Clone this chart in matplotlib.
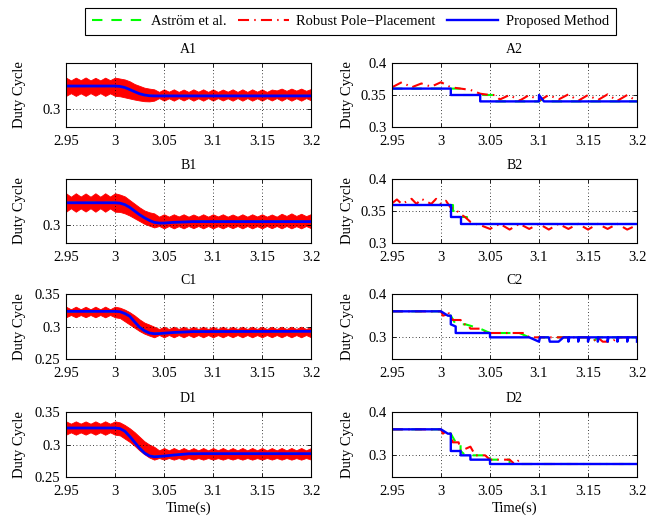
import numpy as np
import matplotlib
matplotlib.use('Agg')
import matplotlib.pyplot as plt
from matplotlib.ticker import FormatStrFormatter

plt.rcParams['font.family'] = ['Liberation Serif', 'DejaVu Serif']

# ---------------- left column (A1..D1): ripple band + smooth response ----------------
t_left = np.linspace(2.95, 3.2, 51)   # 5 ms sample grid of the band envelopes

a1_red_hi = [0.3170, 0.3155, 0.3170, 0.3156, 0.3171, 0.3155, 0.3169, 0.3155, 0.3170, 0.3156, 0.3170,
             0.3165, 0.3160, 0.3150, 0.3135, 0.3125, 0.3115, 0.3110, 0.3106, 0.3092, 0.3106, 0.3093,
             0.3106, 0.3092, 0.3105, 0.3092, 0.3106, 0.3093, 0.3106, 0.3092, 0.3106, 0.3092, 0.3105,
             0.3093, 0.3106, 0.3092, 0.3106, 0.3092, 0.3106, 0.3093, 0.3106, 0.3092, 0.3105, 0.3100,
             0.3110, 0.3098, 0.3110, 0.3099, 0.3110, 0.3098, 0.3108]
a1_red_lo = [0.3070, 0.3085, 0.3070, 0.3084, 0.3070, 0.3085, 0.3071, 0.3085, 0.3070, 0.3084, 0.3070,
             0.3068, 0.3062, 0.3056, 0.3050, 0.3045, 0.3041, 0.3040, 0.3044, 0.3058, 0.3044, 0.3057,
             0.3044, 0.3058, 0.3045, 0.3058, 0.3044, 0.3057, 0.3044, 0.3058, 0.3044, 0.3058, 0.3045,
             0.3057, 0.3044, 0.3058, 0.3044, 0.3058, 0.3044, 0.3057, 0.3044, 0.3058, 0.3045, 0.3058,
             0.3044, 0.3058, 0.3044, 0.3057, 0.3044, 0.3058, 0.3046]
a1_blue_t = [2.95, 3.0, 3.005, 3.01, 3.015, 3.02, 3.025, 3.03, 3.035, 3.04, 3.2]
a1_blue = [0.3124, 0.3124, 0.3122, 0.3116, 0.3105, 0.3093, 0.3082, 0.3075, 0.3071, 0.3070, 0.3070]

b1_red_hi = [0.3172, 0.3153, 0.3172, 0.3154, 0.3171, 0.3153, 0.3172, 0.3153, 0.3172, 0.3154, 0.3172,
             0.3165, 0.3155, 0.3135, 0.3115, 0.3095, 0.3078, 0.3068, 0.3062, 0.3044, 0.3057, 0.3044,
             0.3057, 0.3045, 0.3057, 0.3044, 0.3056, 0.3044, 0.3057, 0.3044, 0.3057, 0.3045, 0.3057,
             0.3044, 0.3056, 0.3044, 0.3057, 0.3044, 0.3057, 0.3045, 0.3057, 0.3044, 0.3056, 0.3044,
             0.3060, 0.3048, 0.3062, 0.3048, 0.3060, 0.3047, 0.3058]
b1_red_lo = [0.3071, 0.3090, 0.3071, 0.3089, 0.3072, 0.3090, 0.3071, 0.3090, 0.3071, 0.3089, 0.3071,
             0.3070, 0.3062, 0.3050, 0.3035, 0.3020, 0.3005, 0.2995, 0.2985, 0.2993, 0.2980, 0.2993,
             0.2980, 0.2992, 0.2980, 0.2993, 0.2981, 0.2993, 0.2980, 0.2993, 0.2980, 0.2992, 0.2980,
             0.2993, 0.2981, 0.2993, 0.2980, 0.2993, 0.2980, 0.2992, 0.2980, 0.2993, 0.2981, 0.2993,
             0.2980, 0.2993, 0.2980, 0.2992, 0.2980, 0.2993, 0.2981]
b1_blue_t = [2.95, 3.0, 3.005, 3.01, 3.015, 3.02, 3.025, 3.03, 3.035, 3.04, 3.045, 3.05, 3.06, 3.08, 3.2]
b1_blue = [0.3120, 0.3120, 0.3118, 0.3110, 0.3095, 0.3075, 0.3055, 0.3038, 0.3024, 0.3013, 0.3009,
           0.3009, 0.3013, 0.3017, 0.3017]

c1_red_hi = [0.3305, 0.3265, 0.3305, 0.3266, 0.3304, 0.3265, 0.3305, 0.3265, 0.3306, 0.3265, 0.3305,
             0.3290, 0.3260, 0.3220, 0.3170, 0.3110, 0.3060, 0.3030, 0.2997, 0.2962, 0.2997, 0.2962,
             0.2997, 0.2963, 0.2997, 0.2962, 0.2996, 0.2962, 0.2997, 0.2962, 0.2997, 0.2963, 0.2997,
             0.2962, 0.2996, 0.2962, 0.2997, 0.2962, 0.2997, 0.2963, 0.2997, 0.2962, 0.2996, 0.2962,
             0.2997, 0.2962, 0.2997, 0.2963, 0.2997, 0.2962, 0.2996]
c1_red_lo = [0.3142, 0.3177, 0.3142, 0.3176, 0.3143, 0.3177, 0.3142, 0.3177, 0.3141, 0.3177, 0.3142,
             0.3130, 0.3080, 0.3030, 0.2980, 0.2930, 0.2890, 0.2860, 0.2834, 0.2869, 0.2834, 0.2869,
             0.2834, 0.2868, 0.2834, 0.2869, 0.2835, 0.2869, 0.2834, 0.2869, 0.2834, 0.2868, 0.2834,
             0.2869, 0.2835, 0.2869, 0.2834, 0.2869, 0.2834, 0.2868, 0.2834, 0.2869, 0.2835, 0.2869,
             0.2834, 0.2869, 0.2834, 0.2868, 0.2834, 0.2869, 0.2835]
c1_blue_t = [2.95, 3.0, 3.005, 3.01, 3.015, 3.02, 3.025, 3.03, 3.035, 3.04, 3.045, 3.05, 3.06, 3.08, 3.2]
c1_blue = [0.3233, 0.3233, 0.3228, 0.3200, 0.3158, 0.3072, 0.2990, 0.2935, 0.2900, 0.2889, 0.2891,
           0.2897, 0.2908, 0.2922, 0.2926]

d1_red_hi = [0.3356, 0.3320, 0.3356, 0.3321, 0.3355, 0.3320, 0.3356, 0.3320, 0.3357, 0.3320, 0.3356,
             0.3340, 0.3300, 0.3250, 0.3190, 0.3120, 0.3050, 0.3000, 0.2965, 0.2910, 0.2946, 0.2910,
             0.2946, 0.2911, 0.2946, 0.2910, 0.2945, 0.2910, 0.2946, 0.2910, 0.2946, 0.2911, 0.2946,
             0.2910, 0.2945, 0.2910, 0.2946, 0.2910, 0.2946, 0.2911, 0.2946, 0.2910, 0.2945, 0.2910,
             0.2946, 0.2910, 0.2946, 0.2911, 0.2946, 0.2910, 0.2945]
d1_red_lo = [0.3151, 0.3187, 0.3151, 0.3186, 0.3152, 0.3187, 0.3151, 0.3187, 0.3150, 0.3187, 0.3151,
             0.3140, 0.3090, 0.3040, 0.2980, 0.2910, 0.2850, 0.2800, 0.2767, 0.2792, 0.2767, 0.2792,
             0.2767, 0.2791, 0.2767, 0.2792, 0.2768, 0.2792, 0.2767, 0.2792, 0.2767, 0.2791, 0.2767,
             0.2792, 0.2768, 0.2792, 0.2767, 0.2792, 0.2767, 0.2791, 0.2767, 0.2792, 0.2768, 0.2792,
             0.2767, 0.2792, 0.2767, 0.2791, 0.2767, 0.2792, 0.2768]
d1_blue_t = [2.95, 3.0, 3.005, 3.01, 3.015, 3.02, 3.025, 3.03, 3.035, 3.04, 3.045, 3.05, 3.06, 3.075,
             3.09, 3.2]
d1_blue = [0.3254, 0.3254, 0.3245, 0.3205, 0.3125, 0.3035, 0.2945, 0.2870, 0.2825, 0.2811, 0.2816,
           0.2822, 0.2838, 0.2857, 0.2859, 0.2859]

# ---------------- right column (A2..D2): quantised duty cycle ----------------
a2_green_t = [2.95, 3.02, 3.02, 3.055, 3.055, 3.10, 3.105, 3.11, 3.2]
a2_green = [0.36, 0.36, 0.35, 0.35, 0.34, 0.34, 0.345, 0.34, 0.34]
a2_red_t = [2.95, 2.96, 2.97, 2.98, 2.99, 3.0, 3.01, 3.02, 3.03, 3.04, 3.05, 3.055, 3.06, 3.07,
            3.08, 3.09, 3.10, 3.11, 3.12, 3.13, 3.14, 3.15, 3.16, 3.17, 3.18, 3.19, 3.2]
a2_red = [0.362, 0.370, 0.362, 0.368, 0.363, 0.370, 0.362, 0.360, 0.358, 0.352, 0.350, 0.350, 0.343,
          0.350, 0.341, 0.350, 0.341, 0.350, 0.343, 0.351, 0.341, 0.350, 0.342, 0.351, 0.341, 0.350,
          0.340]
a2_blue_t = [2.95, 3.01, 3.01, 3.04, 3.04, 3.10, 3.10, 3.105, 3.2]
a2_blue = [0.36, 0.36, 0.35, 0.35, 0.34, 0.34, 0.35, 0.34, 0.34]

b2_green_t = [2.95, 3.012, 3.012, 3.017, 3.017, 3.027, 3.027, 3.2]
b2_green = [0.36, 0.36, 0.35, 0.35, 0.34, 0.34, 0.33, 0.33]
b2_red_t = [2.95, 2.955, 2.96, 2.97, 2.975, 2.98, 2.99, 2.995, 3.0, 3.005, 3.01, 3.015, 3.02,
            3.025, 3.03, 3.035, 3.04, 3.05, 3.06, 3.07, 3.08, 3.09, 3.10, 3.11, 3.12, 3.13, 3.14,
            3.15, 3.16, 3.17, 3.18, 3.19, 3.2]
b2_red = [0.362, 0.368, 0.361, 0.369, 0.361, 0.369, 0.361, 0.369, 0.361, 0.366, 0.355, 0.352,
          0.345, 0.340, 0.333, 0.330, 0.328, 0.322, 0.330, 0.321, 0.330, 0.322, 0.330, 0.321, 0.330,
          0.322, 0.330, 0.321, 0.330, 0.322, 0.330, 0.321, 0.328]
b2_blue_t = [2.95, 3.01, 3.01, 3.02, 3.02, 3.2]
b2_blue = [0.36, 0.36, 0.34, 0.34, 0.33, 0.33]

c2_green_t = [2.95, 3.0, 3.005, 3.01, 3.015, 3.025, 3.04, 3.05, 3.08, 3.09, 3.15, 3.155, 3.16, 3.2]
c2_green = [0.36, 0.36, 0.35, 0.35, 0.33, 0.33, 0.32, 0.31, 0.31, 0.30, 0.30, 0.29, 0.30, 0.30]
c2_red_t = [2.95, 3.0, 3.002, 3.005, 3.007, 3.01, 3.012, 3.02, 3.022, 3.027, 3.03, 3.04, 3.045,
            3.085, 3.09, 3.15, 3.155, 3.16, 3.165, 3.175, 3.18, 3.2]
c2_red = [0.36, 0.36, 0.35, 0.352, 0.36, 0.345, 0.34, 0.34, 0.33, 0.33, 0.32, 0.32, 0.31, 0.31,
          0.30, 0.30, 0.29, 0.30, 0.29, 0.29, 0.30, 0.30]
c2_blue_t = [2.95, 3.0, 3.007, 3.01, 3.01, 3.015, 3.015, 3.05, 3.05, 3.09, 3.10, 3.101, 3.11,
             3.111, 3.12, 3.125, 3.13, 3.13, 3.131, 3.14, 3.14, 3.141, 3.15, 3.15, 3.151, 3.16,
             3.16, 3.161, 3.17, 3.17, 3.171, 3.18, 3.18, 3.181, 3.19, 3.19, 3.191, 3.2, 3.2]
c2_blue = [0.36, 0.36, 0.35, 0.35, 0.33, 0.325, 0.31, 0.31, 0.30, 0.30, 0.29, 0.30, 0.30, 0.29,
           0.29, 0.30, 0.30, 0.29, 0.30, 0.30, 0.29, 0.30, 0.30, 0.29, 0.30, 0.30, 0.29, 0.30,
           0.30, 0.29, 0.30, 0.30, 0.29, 0.30, 0.30, 0.29, 0.30, 0.30, 0.29]

d2_green_t = [2.95, 3.0, 3.01, 3.015, 3.02, 3.02, 3.025, 3.05, 3.05, 3.07, 3.07, 3.2]
d2_green = [0.36, 0.36, 0.35, 0.33, 0.33, 0.31, 0.30, 0.30, 0.29, 0.29, 0.28, 0.28]
d2_red_t = [2.95, 3.0, 3.002, 3.005, 3.01, 3.012, 3.018, 3.02, 3.03, 3.035, 3.045, 3.05, 3.07,
            3.075, 3.08, 3.082, 3.2]
d2_red = [0.36, 0.36, 0.35, 0.355, 0.35, 0.33, 0.33, 0.31, 0.32, 0.30, 0.30, 0.29, 0.29, 0.28,
          0.29, 0.28, 0.28]
d2_blue_t = [2.95, 3.0, 3.007, 3.01, 3.01, 3.02, 3.02, 3.03, 3.03, 3.05, 3.05, 3.2]
d2_blue = [0.36, 0.36, 0.35, 0.35, 0.31, 0.31, 0.30, 0.30, 0.29, 0.29, 0.28, 0.28]

titles = ['A1', 'A2', 'B1', 'B2', 'C1', 'C2', 'D1', 'D2']
x_ticks = [2.95, 3.0, 3.05, 3.1, 3.15, 3.2]
legend_labels = ['Aström et al.', 'Robust Pole\u2212Placement', 'Proposed Method']

GREEN, RED, BLUE = (0, 1, 0), (1, 0, 0), (0, 0, 1)
DASH = (0, (5, 4.3))
DASHDOT = (0, (5.3, 2.5, 0.7, 2.5))

fig = plt.figure(figsize=(6.48, 5.17), dpi=100)
W, H = 648.0, 517.0
col_x = [66, 392]
rows = [(63, 127), (179, 243), (294, 359), (412, 477)]


def make_ax(row, col):
    top, bot = rows[row]
    ax = fig.add_axes([col_x[col] / W, 1 - bot / H, 245 / W, (bot - top) / H])
    ax.set_xlim(2.95, 3.2)
    ax.set_xticks(x_ticks)
    ax.xaxis.set_major_formatter(FormatStrFormatter('%g'))
    ax.yaxis.set_major_formatter(FormatStrFormatter('%g'))
    ax.tick_params(direction='in', length=3, width=0.6, top=True, right=True,
                   labelsize=10.5, pad=4)
    ax.tick_params(axis='x', pad=6)
    ax.grid(True, linestyle=(0, (1, 3)), color='k', linewidth=0.6)
    for s in ax.spines.values():
        s.set_linewidth(0.8)
    ax.set_title(titles[row * 2 + col], fontsize=10, pad=7)
    ax.set_ylabel('Duty Cycle', fontsize=10.5)
    ax.yaxis.set_label_coords(-0.165 if col == 0 else -0.155, 0.5)
    if row == 3:
        ax.set_xlabel('Time(s)', fontsize=10.5)
        ax.xaxis.set_label_coords(0.5, -0.37)
    return ax


left = [(a1_red_hi, a1_red_lo, a1_blue_t, a1_blue, (0.29, 0.325), [0.3]),
        (b1_red_hi, b1_red_lo, b1_blue_t, b1_blue, (0.29, 0.325), [0.3]),
        (c1_red_hi, c1_red_lo, c1_blue_t, c1_blue, (0.25, 0.35), [0.25, 0.3, 0.35]),
        (d1_red_hi, d1_red_lo, d1_blue_t, d1_blue, (0.25, 0.35), [0.25, 0.3, 0.35])]
right = [(a2_green_t, a2_green, a2_red_t, a2_red, a2_blue_t, a2_blue, (0.3, 0.4), [0.3, 0.35, 0.4]),
         (b2_green_t, b2_green, b2_red_t, b2_red, b2_blue_t, b2_blue, (0.3, 0.4), [0.3, 0.35, 0.4]),
         (c2_green_t, c2_green, c2_red_t, c2_red, c2_blue_t, c2_blue, (0.25, 0.4), [0.3, 0.4]),
         (d2_green_t, d2_green, d2_red_t, d2_red, d2_blue_t, d2_blue, (0.25, 0.4), [0.3, 0.4])]

for r, (hi, lo, bt, bv, ylim, yt) in enumerate(left):
    ax = make_ax(r, 0)
    # green result lies underneath the proposed response here
    ax.plot(bt, bv, color=GREEN, lw=1.5, linestyle=DASH)
    ax.fill_between(t_left, lo, hi, color=RED, linewidth=0.6)
    ax.plot(bt, bv, color=BLUE, lw=2.0)
    ax.set_ylim(*ylim)
    ax.set_yticks(yt)

handles = None
for r, (gt, gv, rt, rv, bt, bv, ylim, yt) in enumerate(right):
    ax = make_ax(r, 1)
    hg, = ax.plot(gt, gv, color=GREEN, lw=1.5, linestyle=DASH)
    hr, = ax.plot(rt, rv, color=RED, lw=1.5, linestyle=DASHDOT)
    hb, = ax.plot(bt, bv, color=BLUE, lw=1.7)
    ax.set_ylim(*ylim)
    ax.set_yticks(yt)
    if handles is None:
        handles = [hg, hr, hb]

leg = fig.legend(handles, legend_labels, loc='center', bbox_to_anchor=(350.5 / W, 1 - 21.5 / H),
                 ncol=3, fontsize=10.5, frameon=True, fancybox=False, edgecolor='k', framealpha=1,
                 handlelength=3.5, handletextpad=0.5, columnspacing=0.8, borderpad=0.5)
leg.get_frame().set_linewidth(0.8)

fig.savefig('out.png', dpi=100)
